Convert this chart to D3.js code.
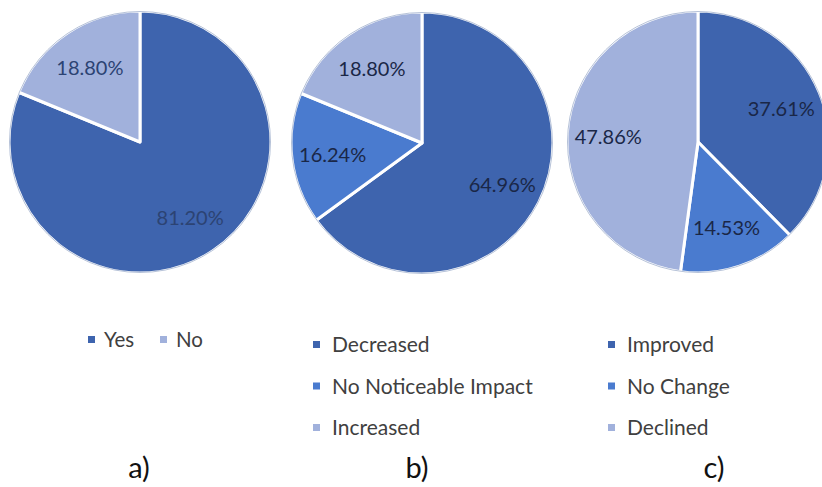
<!DOCTYPE html>
<html>
<head>
<meta charset="utf-8">
<script src="https://cdn.jsdelivr.net/npm/d3@7"></script>
<style>
  html, body { margin: 0; padding: 0; background: #ffffff; }
  svg { display: block; }
  text { font-family: Lato, "Open Sans", "DejaVu Sans", sans-serif; }
</style>
</head>
<body>
<svg id="chart" width="822" height="487"></svg>
<script>
// Survey outcomes, three pie charts
const categoriesA = ["Yes", "No"];
const valuesA = [81.20, 18.80];

const categoriesB = ["Decreased", "No Noticeable Impact", "Increased"];
const valuesB = [64.96, 16.24, 18.80];

const categoriesC = ["Improved", "No Change", "Declined"];
const valuesC = [37.61, 14.53, 47.86];

const panelLabels = ["a)", "b)", "c)"];

const darkBlue = "#3e64ae";
const midBlue = "#4a7bcf";
const lightBlue = "#a1b1dc";

const panels = [
  { cats: categoriesA, vals: valuesA, colors: [darkBlue, lightBlue], cx: 140, cy: 142,
    labelColor: "#2c4373", legend: "row", legendX: 88, legendY: 347 },
  { cats: categoriesB, vals: valuesB, colors: [darkBlue, midBlue, lightBlue], cx: 422, cy: 143,
    labelColor: "#1a2747", legend: "col", legendX: 313, legendY: 352 },
  { cats: categoriesC, vals: valuesC, colors: [darkBlue, midBlue, lightBlue], cx: 698, cy: 142,
    labelColor: "#1a2747", legend: "col", legendX: 608, legendY: 352 }
];

const svg = d3.select("#chart");
const radius = 131;
const labelRadius = 90;

const pie = d3.pie().sort(null).value(d => d.value);
const arc = d3.arc().innerRadius(0).outerRadius(radius);
const labelArc = d3.arc().innerRadius(labelRadius).outerRadius(labelRadius);

panels.forEach((p, i) => {
  const data = p.cats.map((c, j) => ({ cat: c, value: p.vals[j], color: p.colors[j] }));
  const g = svg.append("g").attr("transform", `translate(${p.cx},${p.cy})`);
  const arcs = pie(data);

  g.selectAll("path.slice")
    .data(arcs)
    .join("path")
    .attr("class", "slice")
    .attr("d", arc)
    .attr("fill", d => d.data.color)
    .attr("stroke", "#ffffff")
    .attr("stroke-width", 3)
    .attr("stroke-linejoin", "round");

  // subtle darker rim around the disc
  g.append("circle")
    .attr("r", radius - 0.5)
    .attr("fill", "none")
    .attr("stroke", "#2e4f8f")
    .attr("stroke-opacity", 0.35)
    .attr("stroke-width", 1);

  g.selectAll("text.pct")
    .data(arcs)
    .join("text")
    .attr("class", "pct")
    .attr("transform", d => `translate(${labelArc.centroid(d)})`)
    .attr("text-anchor", "middle")
    .attr("dominant-baseline", "central")
    .attr("font-size", 20)
    .attr("fill", p.labelColor)
    .text(d => d.data.value.toFixed(2) + "%");

  // legend
  const lg = svg.append("g");
  if (p.legend === "row") {
    const offsets = [0, 72];
    data.forEach((d, j) => {
      const x = p.legendX + offsets[j];
      lg.append("rect").attr("x", x).attr("y", p.legendY - 11).attr("width", 7).attr("height", 7)
        .attr("fill", d.color);
      lg.append("text").attr("x", x + 16).attr("y", p.legendY)
        .attr("font-size", 20.5).attr("fill", "#404040").text(d.cat);
    });
  } else {
    data.forEach((d, j) => {
      const y = p.legendY + j * 41.5;
      lg.append("rect").attr("x", p.legendX).attr("y", y - 11).attr("width", 7).attr("height", 7)
        .attr("fill", d.color);
      lg.append("text").attr("x", p.legendX + 19).attr("y", y)
        .attr("font-size", 21).attr("fill", "#404040").text(d.cat);
    });
  }

  svg.append("text")
    .attr("x", [139, 417, 714][i])
    .attr("y", 478)
    .attr("text-anchor", "middle")
    .attr("font-size", 29)
    .attr("fill", "#111111")
    .text(panelLabels[i]);
});
</script>
</body>
</html>
